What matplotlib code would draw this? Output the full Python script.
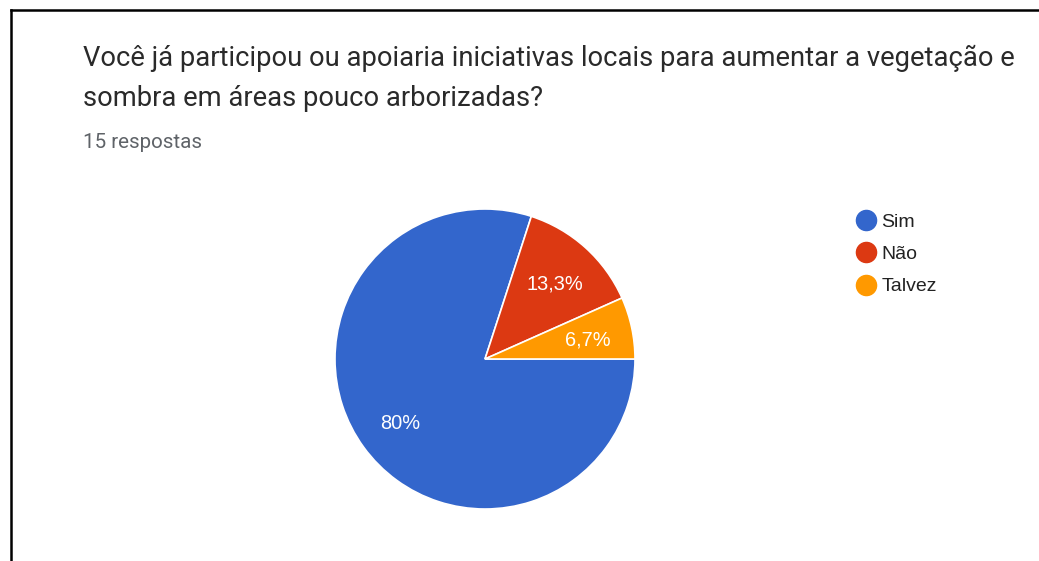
import numpy as np
import matplotlib.pyplot as plt
from matplotlib.lines import Line2D

labels = ['Sim', 'Não', 'Talvez']
values = [12, 2, 1]
pct_labels = ['80%', '13,3%', '6,7%']
colors = ['#3366cc', '#dc3912', '#ff9900']

W, H = 1039, 561
plt.rcParams['font.family'] = ['Roboto', 'DejaVu Sans']

fig = plt.figure(figsize=(W / 100, H / 100), dpi=100)

# moldura (só esquerda e topo aparecem no recorte)
fig.add_artist(Line2D([11 / W, 11 / W], [0, 1 - 10 / H], color='black', lw=1.8))
fig.add_artist(Line2D([11 / W, 1], [1 - 10 / H, 1 - 10 / H], color='black', lw=1.8))

fig.text(83 / W, 1 - 58 / H, 'Você já participou ou apoiaria iniciativas locais para aumentar a vegetação e',
         fontsize=19.7, color='#2a2a2a', va='center', ha='left')
fig.text(83 / W, 1 - 98 / H, 'sombra em áreas pouco arborizadas?',
         fontsize=19.7, color='#2a2a2a', va='center', ha='left')
fig.text(83 / W, 1 - 143 / H, '15 respostas', fontsize=14.8, color='#5f6368', va='center', ha='left')

# pizza
cx, cy, r = 485, 359, 150
ax = fig.add_axes([(cx - r) / W, (H - cy - r) / H, 2 * r / W, 2 * r / H])
wedges, texts = ax.pie(values, colors=colors, startangle=0, counterclock=False,
                       wedgeprops=dict(edgecolor='white', linewidth=1.2))
for w, t in zip(wedges, pct_labels):
    ang = np.deg2rad((w.theta1 + w.theta2) / 2)
    ax.text(0.7 * np.cos(ang), 0.7 * np.sin(ang) - 0.02, t, ha='center', va='center',
            color='white', fontsize=14.4, family=['Liberation Sans', 'DejaVu Sans'])
ax.set_xlim(-1, 1)
ax.set_ylim(-1, 1)

handles = [Line2D([], [], marker='o', ls='', markersize=14.5, markerfacecolor=c, markeredgecolor=c)
           for c in colors]
fig.legend(handles, labels, loc='upper left', bbox_to_anchor=(856 / W, 1 - 213 / H),
           frameon=False, handletextpad=0.3, labelspacing=0.76,
           borderpad=0, borderaxespad=0, handlelength=1.0, labelcolor='#222222',
           prop=dict(family=['Liberation Sans', 'DejaVu Sans'], size=14))

fig.savefig('out.png', dpi=100)
